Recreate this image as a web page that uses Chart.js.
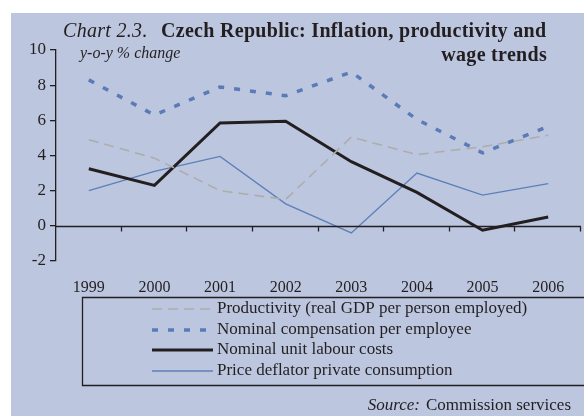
<!DOCTYPE html>
<html>
<head>
<meta charset="utf-8">
<script src="https://cdn.jsdelivr.net/npm/chart.js@4.4.0/dist/chart.umd.min.js"></script>
<style>
  html, body { margin: 0; padding: 0; background: #fff; }
  #wrap { width: 584px; height: 416px; position: relative; }
</style>
</head>
<body>
<div id="wrap"><canvas id="chart" width="584" height="416"></canvas></div>
<script>
const years = ["1999", "2000", "2001", "2002", "2003", "2004", "2005", "2006"];
const productivity = [4.9, 3.85, 2.0, 1.5, 5.05, 4.05, 4.5, 5.15];
const compensation = [8.3, 6.3, 7.9, 7.4, 8.75, 6.05, 4.15, 5.65];
const unitLabour = [3.25, 2.3, 5.85, 5.95, 3.65, 1.9, -0.25, 0.5];
const deflator = [2.0, 3.1, 3.95, 1.25, -0.4, 3.0, 1.75, 2.4];
const yTicks = [-2, 0, 2, 4, 6, 8, 10];

const serif = '"Liberation Serif", "DejaVu Serif", serif';
const panelColor = '#bcc6df';
const ink = '#231f20';

// background panel, title, zero axis, legend box and source
const decor = {
    id: 'decor',
    beforeDraw(chart) {
        const c = chart.ctx;
        c.save();
        c.fillStyle = '#ffffff';
        c.fillRect(0, 0, chart.width, chart.height);
        c.fillStyle = panelColor;
        c.fillRect(11, 13, chart.width - 11, chart.height - 13);
        c.restore();
    },
    afterDraw(chart) {
        const c = chart.ctx;
        const area = chart.chartArea;
        const y = chart.scales.y;
        c.save();

        // zero line with category ticks
        const y0 = Math.round(y.getPixelForValue(0)) + 0.5;
        c.strokeStyle = ink;
        c.lineWidth = 1.3;
        c.beginPath();
        c.moveTo(area.left, y0);
        c.lineTo(area.right, y0);
        const step = (area.right - area.left) / years.length;
        for (let i = 1; i <= years.length; i++) {
            const x = Math.round(area.left + i * step) - 0.5;
            c.moveTo(x, y0);
            c.lineTo(x, y0 + 5);
        }
        c.stroke();

        // title
        c.fillStyle = ink;
        c.textBaseline = 'alphabetic';
        c.textAlign = 'left';
        c.letterSpacing = '0.3px';
        c.font = 'italic 20px ' + serif;
        c.fillText('Chart 2.3.', 63, 37);
        c.font = 'bold 20px ' + serif;
        c.fillText('Czech Republic: Inflation, productivity and', 161, 37);
        c.textAlign = 'right';
        c.fillText('wage trends', 547, 61);
        c.letterSpacing = '0px';
        c.textAlign = 'left';
        c.font = 'italic 16px ' + serif;
        c.fillText('y-o-y % change', 80, 58);

        // legend box
        c.lineWidth = 1.3;
        c.strokeStyle = ink;
        c.beginPath();
        c.moveTo(chart.width, 297.5);
        c.lineTo(82.5, 297.5);
        c.lineTo(82.5, 385.5);
        c.lineTo(chart.width, 385.5);
        c.stroke();

        const rows = [309, 330, 350, 371];
        chart.data.datasets.forEach((ds, i) => {
            c.save();
            c.strokeStyle = ds.borderColor;
            c.lineWidth = ds.borderWidth;
            c.setLineDash(ds.borderDash || []);
            c.beginPath();
            c.moveTo(152, rows[i]);
            c.lineTo(ds.borderDash ? 210 : 213, rows[i]);
            c.stroke();
            c.restore();
            c.fillStyle = ink;
            c.font = '17px ' + serif;
            c.textBaseline = 'middle';
            c.fillText(ds.label, 217, rows[i]);
        });

        // source
        c.textBaseline = 'alphabetic';
        c.textAlign = 'right';
        c.font = '17px ' + serif;
        const rest = 'Commission services';
        c.fillText(rest, 571, 410);
        const w = c.measureText(rest).width;
        c.font = 'italic 17px ' + serif;
        c.fillText('Source:', 571 - w - 6, 410);
        c.restore();
    }
};

new Chart(document.getElementById('chart'), {
    type: 'line',
    data: {
        labels: years,
        datasets: [
            { label: 'Productivity (real GDP per person employed)', data: productivity,
              borderColor: '#adadad', borderWidth: 1.6, borderDash: [10, 6] },
            { label: 'Nominal compensation per employee', data: compensation,
              borderColor: '#5a7bb6', borderWidth: 3.5, borderDash: [6, 10] },
            { label: 'Nominal unit labour costs', data: unitLabour,
              borderColor: ink, borderWidth: 3 },
            { label: 'Price deflator private consumption', data: deflator,
              borderColor: '#5c7fba', borderWidth: 1.3 }
        ]
    },
    options: {
        responsive: false,
        animation: false,
        devicePixelRatio: 1,
        layout: { padding: { top: 50, right: 3, left: 0, bottom: 0 } },
        elements: { point: { radius: 0 }, line: { tension: 0, fill: false } },
        plugins: { legend: { display: false }, tooltip: { enabled: false } },
        scales: {
            x: {
                offset: true,
                grid: { display: false },
                border: { display: false },
                ticks: { color: ink, font: { family: serif, size: 16 }, padding: 9, maxRotation: 0 },
                afterFit(scale) { scale.height = 155; }
            },
            y: {
                min: -2,
                max: 10,
                afterBuildTicks(scale) { scale.ticks = yTicks.map(v => ({ value: v })); },
                grid: { drawOnChartArea: false, drawTicks: true, tickLength: 6, color: ink, lineWidth: 1.3 },
                border: { display: true, color: ink, width: 1.3 },
                ticks: { color: ink, font: { family: serif, size: 17 }, padding: 4 },
                afterFit(scale) { scale.width = 56; }
            }
        }
    },
    plugins: [decor]
});
</script>
</body>
</html>
